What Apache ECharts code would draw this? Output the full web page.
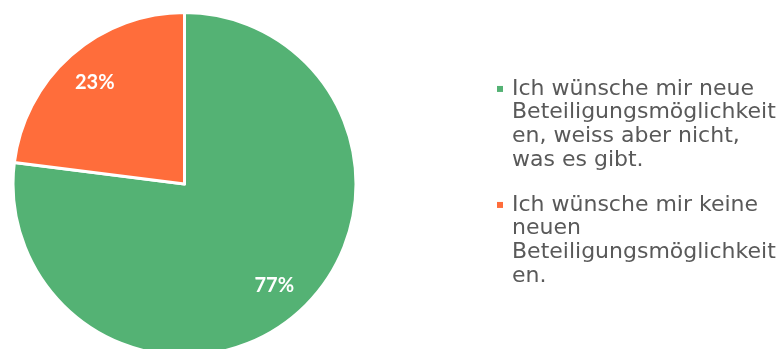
<!DOCTYPE html>
<html><head><meta charset="utf-8">
<script src="https://cdn.jsdelivr.net/npm/echarts@6/dist/echarts.min.js"></script>
<style>html,body{margin:0;padding:0;background:#fff}#c{width:781px;height:349px}</style>
</head><body><div id="c"></div>
<script>
const categories = [
  'Ich wünsche mir neue Beteiligungsmöglichkeiten, weiss aber nicht, was es gibt.',
  'Ich wünsche mir keine neuen Beteiligungsmöglichkeiten.'
];
const legendLabels = [
  'Ich wünsche mir neue\nBeteiligungsmöglichkeit\nen, weiss aber nicht,\nwas es gibt.',
  'Ich wünsche mir keine\nneuen\nBeteiligungsmöglichkeit\nen.'
];
const values = [77, 23];
const colors = ['#54B274', '#FF6D3B'];

const chart = echarts.init(document.getElementById('c'), null, {renderer: 'canvas'});
const center = [184.5, 184];
const R = 171.5;
chart.setOption({
  animation: false,
  backgroundColor: '#ffffff',
  legend: {
    orient: 'vertical',
    left: 497, top: 6, padding: 0,
    itemGap: -49.9,
    icon: 'rect', itemWidth: 6, itemHeight: 6,
    itemStyle: {borderWidth: 0},
    selectedMode: false,
    data: categories,
    formatter: function (name) {
      return '{b|}\n{b|}\n{b|}\n' + legendLabels[categories.indexOf(name)];
    },
    textStyle: {
      fontFamily: 'DejaVu Sans', fontSize: 22, color: '#595959',
      lineHeight: 23.7, padding: [0, 0, 0, 4],
      rich: {b: {lineHeight: 23.7}}
    }
  },
  series: [
    {
      type: 'pie', center: center, radius: R, startAngle: 90, clockwise: true,
      silent: true,
      label: {show: false}, labelLine: {show: false},
      itemStyle: {borderColor: '#ffffff', borderWidth: 3},
      data: categories.map((n, i) => ({name: n, value: values[i], itemStyle: {color: colors[i]}}))
    },
    {
      type: 'pie', center: center, radius: [94, R], startAngle: 90, clockwise: true,
      silent: true,
      itemStyle: {color: 'rgba(0,0,0,0)', borderWidth: 0},
      label: {show: true, position: 'inside', formatter: '{d}%', color: '#ffffff',
        fontFamily: 'Lato', fontWeight: 'bold', fontSize: 20},
      labelLine: {show: false},
      data: categories.map((n, i) => ({name: n, value: values[i]}))
    }
  ]
});
</script>
</body></html>
